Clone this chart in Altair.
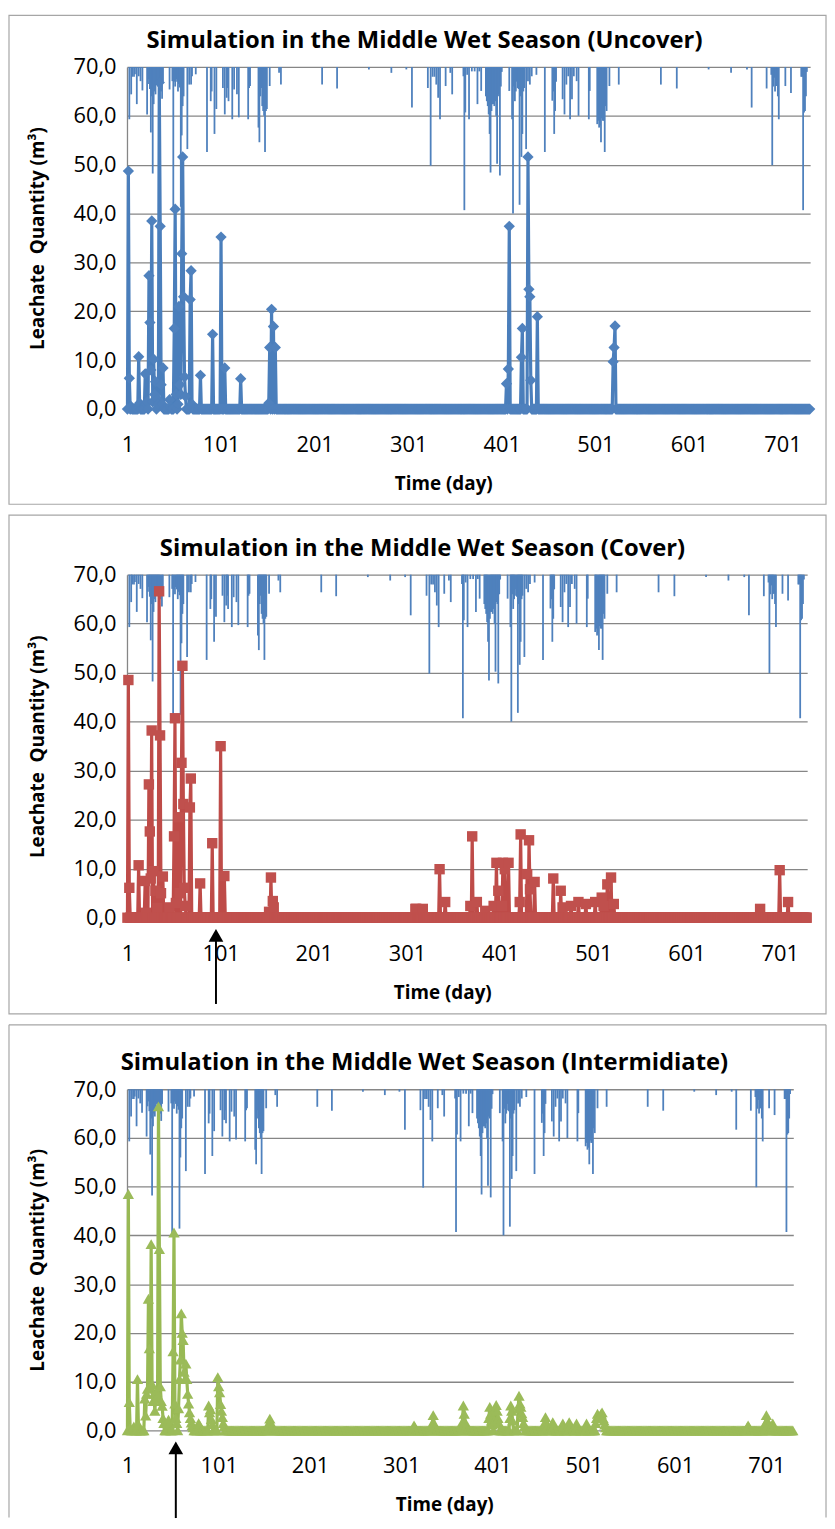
import altair as alt
import pandas as pd

N_DAYS = 730
X_TICKS = [1, 101, 201, 301, 401, 501, 601, 701]
Y_TICKS = [0, 10, 20, 30, 40, 50, 60, 70]

# Rainfall (drawn as inverted bars hanging from the top of the plot)
RAIN_DAYS = [3, 5, 6, 8, 9, 11, 13, 15, 17, 22, 23, 24, 25, 26, 27, 28, 29, 30, 31, 32, 33, 34, 35, 36, 37, 38, 39,
             46, 49, 50, 51, 52, 53, 54, 55, 56, 57, 58, 59, 60, 61, 65, 67, 69, 70, 74, 86, 90, 91, 94, 96,
             103, 105, 107, 108, 109, 113, 115, 118, 120, 130, 131, 132, 141, 142, 143, 144, 145, 146, 147, 148,
             149, 150, 153, 163, 165, 209, 225, 259, 283, 299, 305, 322, 325, 327, 329, 331, 333, 335, 341, 346,
             348, 360, 361, 362, 364, 366, 369, 372, 375, 377, 379, 384, 385, 386, 387, 388, 389, 390, 391, 392,
             393, 394, 395, 396, 397, 398, 399, 400, 401, 409, 412, 413, 414, 415, 416, 417, 418, 419, 420, 421,
             422, 423, 424, 425, 427, 429, 431, 433, 438, 447, 455, 456, 457, 458, 459, 466, 468, 470, 472, 474,
             476, 478, 481, 483, 494, 495, 503, 504, 505, 506, 507, 508, 509, 510, 511, 512, 513, 516, 526, 571,
             588, 622, 646, 663, 668, 684, 689, 690, 691, 692, 693, 694, 695, 696, 697, 704, 710, 721, 722, 723,
             724, 725, 726, 727]
RAIN_DEPTH = [10.7, 5.6, 2.0, 2.0, 1.5, 7.6, 1.9, 2.9, 4.8, 9.7, 3.5, 2.5, 4.5, 13.4, 6.0, 21.8, 7.6, 5.0, 5.6, 3.6,
              3.0, 4.0, 22.0, 4.0, 5.0, 6.5, 3.0,
              4.6, 2.9, 29.5, 3.0, 4.0, 2.5, 3.0, 5.0, 3.5, 4.2, 28.6, 14.0, 8.0, 6.0, 16.8, 3.6, 3.6, 1.9, 1.5,
              17.4, 7.0, 5.0, 13.7, 8.6,
              4.3, 9.7, 6.3, 4.3, 7.0, 10.7, 4.6, 5.6, 10.3, 10.7, 4.3, 3.9, 12.4, 15.4, 6.0, 4.3, 8.0, 9.0, 10.0,
              17.4, 9.0, 8.6, 3.9, 1.2, 3.6, 3.6, 4.4, 0.5, 1.2, 0.5, 8.3, 4.3, 20.2, 2.0, 2.0, 3.6, 6.3, 10.7,
              3.9, 1.2,
              5.6, 1.9, 29.3, 9.3, 1.6, 10.7, 0.9, 0.9, 7.6, 0.9, 4.9, 6.0, 7.0, 8.0, 9.7, 13.7, 21.6, 9.0, 7.6,
              7.6, 8.0, 7.0, 10.0, 19.8, 5.6, 6.0, 22.2, 4.0, 1.0, 4.9, 10.7, 30.0, 4.0, 7.0, 5.0, 3.0, 4.3, 4.5,
              28.2, 6.0,
              18.4, 13.7, 5.0, 4.3, 16.8, 2.9, 3.6, 1.9, 1.6, 17.4, 6.9, 5.0, 13.7, 9.0, 3.0, 6.6, 9.7, 3.6, 1.9,
              10.7,
              6.6, 1.9, 2.9, 10.0, 10.7, 4.9, 11.7, 11.0, 12.4, 12.0, 15.4, 10.5, 11.0, 11.0, 17.4, 8.0, 9.0, 3.9,
              3.6, 3.6,
              4.4, 0.5, 1.2, 0.5, 8.3, 4.4, 1.6, 20.1, 4.0, 2.2, 5.0, 3.9, 3.9, 6.0, 10.7, 3.9, 5.3, 2.0, 2.0,
              29.3,
              9.3, 9.0, 6.0, 1.0]

# Leachate quantity (m3): days with non-zero values, all other days are 0
UNCOVER_DAYS = [2, 3, 5, 13, 14, 20, 21, 22, 24, 25, 26, 27, 28, 29, 30, 31, 33, 34, 35, 36, 37, 38, 39, 46, 47,
                51, 52, 53, 55, 56, 57, 58, 59, 60, 61, 62, 63, 68, 69, 70, 79, 92, 101, 105, 122, 152, 153, 155,
                157, 159, 406, 408, 409, 422, 423, 429, 430, 431, 432, 439, 520, 521, 522]
UNCOVER_VALS = [48.7, 6.3, 0.5, 10.7, 1.2, 7.2, 1.0, 1.5, 27.3, 17.7, 8.0, 38.5, 1.5, 10.2, 3.0, 5.6, 2.0, 1.0,
                66.8, 37.4, 5.0, 1.0, 8.4, 1.9, 0.5,
                16.5, 40.9, 3.0, 1.0, 21.0, 5.0, 3.0, 31.8, 51.6, 23.0, 6.6, 2.6, 22.4, 28.3, 1.0, 6.9, 15.3, 35.2,
                8.4, 6.2, 1.2, 12.6, 20.4,
                16.9, 12.6, 5.2, 8.2, 37.4, 10.6, 16.5, 51.6, 24.5, 23.0, 5.9, 18.9, 9.7, 12.6, 17.0]

COVER_DAYS = [2, 3, 13, 20, 21, 24, 25, 26, 27, 29, 31, 33, 35, 36, 37, 39, 46, 51, 52, 53, 56, 57, 59, 60, 61,
              62, 63, 68, 69, 79, 92, 101, 105, 153, 155, 157, 158, 310, 311, 318, 336, 342, 369, 371, 376, 385,
              394, 397, 399, 403, 404, 406, 410, 422, 423, 430, 432, 433, 438, 458, 466, 468, 477, 485, 493, 503,
              510, 512, 516, 520, 523, 680, 701, 710]
COVER_VALS = [48.5, 6.1, 10.7, 7.5, 1.0, 27.2, 17.6, 8.0, 38.2, 9.5, 5.5, 2.0, 66.6, 37.2, 5.0, 8.4, 2.1, 16.6,
              40.7, 3.0, 20.5, 5.0, 31.6, 51.4, 23.2,
              6.1, 2.4, 22.5, 28.4, 7.0, 15.2, 35.0, 8.5, 1.2, 8.2, 3.4, 2.1, 1.8, 1.8, 1.8, 9.9, 3.2, 2.4, 16.6,
              3.2, 1.4,
              2.4, 11.2, 5.5, 2.4, 11.2, 9.9, 11.2, 3.2, 17.0, 8.9, 15.8, 5.8, 7.3, 8.0, 5.5, 2.1, 2.4, 3.2, 2.8,
              3.2,
              4.1, 2.4, 6.8, 8.2, 2.8, 1.8, 9.7, 3.2]

INTER_DAYS = [2, 3, 4, 8, 12, 13, 20, 21, 22, 23, 24, 25, 26, 27, 28, 29, 30, 31, 32, 33, 34, 35, 36, 37, 38, 39,
              40, 41, 45, 46, 47, 51, 52, 53, 54, 55, 57, 58, 59, 60, 61, 62, 63, 64, 65, 66, 67, 68, 69, 70, 71,
              72, 73, 79, 80, 90, 91, 92, 93, 94, 100, 101, 102, 103, 104, 105, 106, 107, 156, 157, 158, 159, 160,
              315, 316, 335, 336, 337, 338, 368, 369, 370, 371, 372, 397, 398, 399, 400, 401, 403, 404, 405, 406,
              407, 408, 420, 421, 422, 423, 429, 430, 431, 432, 433, 434, 435, 436, 458, 459, 460, 461, 467, 468,
              478, 479, 485, 486, 493, 494, 504, 505, 514, 515, 516, 517, 518, 519, 520, 521, 522, 523, 524, 525,
              680, 681, 682, 700, 701, 702, 703, 708, 709]
INTER_VALS = [48.5, 5.8, 0.5, 0.8, 10.5, 1.2, 6.5, 3.0, 7.5, 8.5, 27.0, 16.8, 9.0, 38.2, 9.5, 6.0, 7.5, 4.0, 6.5,
              8.0, 7.0, 66.5, 37.2, 9.0, 6.0, 5.0,
              2.5, 1.5, 1.4, 2.2, 1.2, 16.2, 40.6, 5.5, 2.5, 1.5, 4.5, 10.5, 14.5, 24.0, 20.0, 18.5, 12.0, 10.5,
              13.7, 10.5, 7.5, 5.5, 3.7, 2.5, 1.6,
              1.0, 0.6, 1.5, 1.0, 5.1, 3.7, 4.3, 2.3, 1.3, 10.9, 9.0, 7.8, 5.4, 4.0, 2.7, 1.5, 0.8, 1.5, 2.4, 1.6,
              0.9, 0.5,
              1.0, 0.6, 1.4, 3.1, 1.4, 0.7, 1.7, 5.1, 3.4, 1.7, 0.8, 2.5, 4.8, 3.4, 2.0, 1.2, 2.0, 4.5, 5.2, 4.0,
              2.5, 1.5, 2.5, 5.1, 4.0, 2.0, 4.5, 7.1, 5.5, 4.8, 3.5, 2.7, 1.5, 0.8, 1.5, 2.7, 1.6, 0.8, 1.7, 0.9,
              1.4, 0.7, 1.7, 0.8, 1.4, 0.7, 1.4, 0.7, 1.5, 2.5, 3.4, 2.6, 2.5, 3.0, 3.4, 3.7, 2.5, 2.0, 1.2, 0.6,
              0.6, 1.0, 0.6, 1.5, 3.1, 2.0, 1.0, 1.4, 0.7]

TITLES = ["Simulation in the Middle Wet Season (Uncover)",
          "Simulation in the Middle Wet Season (Cover)",
          "Simulation in the Middle Wet Season (Intermidiate)"]
ARROW_DAY_COVER = 96
ARROW_DAY_INTER = 54

FONT = "Open Sans"
GRID = "#868686"
FRAME = "#A6A6A6"


def series_frame(days, vals):
    lookup = dict(zip(days, vals))
    d = list(range(1, N_DAYS + 1))
    return pd.DataFrame({"day": d, "q": [lookup.get(k, 0.0) for k in d]})


rain_df = pd.DataFrame({"day": RAIN_DAYS, "rain": RAIN_DEPTH})


def make_panel(title, days, vals, line_color, marker_color, shape, msize, W, H,
               frame_top, frame_bottom, title_x, xtitle_x, arrow_day=None, open_bottom=False,
               arrow_tail=-17.6):
    x_axis = alt.Axis(values=X_TICKS, format="d", grid=False, domain=False, ticks=False,
                      labelFont=FONT, labelFontSize=22, labelColor="black", labelPadding=26,
                      labelOverlap=False, labelFlush=False,
                      title="Time (day)", titleFont=FONT, titleFontSize=19, titleFontWeight="bold",
                      titleColor="black", titleX=xtitle_x, titleY=75, titleAlign="center",
                      titleBaseline="middle")
    y_axis = alt.Axis(values=Y_TICKS, labelExpr="replace(format(datum.value, '.1f'), '.', ',')",
                      grid=True, gridColor=GRID, gridWidth=1.3, domain=True, domainColor=GRID,
                      domainWidth=1.3, ticks=False, labelFont=FONT, labelFontSize=22,
                      labelColor="black", labelPadding=11,
                      title="Leachate\u00a0 Quantity (m\u00b3)", titleFont=FONT, titleFontSize=19,
                      titleFontWeight="bold", titleColor="black", titleX=-90, titleY=H / 2,
                      titleAngle=-90, titleAlign="center", titleBaseline="middle")
    xs = alt.Scale(domain=[0.5, N_DAYS + 0.5], nice=False, zero=False)
    ys = alt.Scale(domain=[0, 70], nice=False)
    right = 705

    layers = []
    if not open_bottom:
        frame = alt.Chart(alt.Data(values=[{}])).mark_rect(
            fillOpacity=0, stroke=FRAME, strokeWidth=1.2).encode(
            x=alt.value(-119), x2=alt.value(right),
            y=alt.value(frame_top), y2=alt.value(H + frame_bottom))
        layers.append(frame)
    else:
        for enc in [dict(x=alt.value(-119), x2=alt.value(right), y=alt.value(frame_top)),
                    dict(x=alt.value(-119), y=alt.value(frame_top), y2=alt.value(H + frame_bottom)),
                    dict(x=alt.value(right), y=alt.value(frame_top), y2=alt.value(H + frame_bottom))]:
            layers.append(alt.Chart(alt.Data(values=[{}])).mark_rule(
                color=FRAME, strokeWidth=1.2).encode(**enc))

    ttl = alt.Chart(alt.Data(values=[{"t": title}])).mark_text(
        font=FONT, fontSize=24, fontWeight="bold", color="black", align="center",
        baseline="middle").encode(x=alt.value(title_x), y=alt.value(-26), text="t:N")
    layers.append(ttl)

    rain = alt.Chart(rain_df).transform_calculate(
        top="70", bottom="70 - datum.rain").mark_rule(
        color="#4F81BD", strokeWidth=1.8).encode(
        x=alt.X("day:Q", scale=xs, axis=x_axis),
        y=alt.Y("top:Q", scale=ys, axis=y_axis),
        y2="bottom:Q")
    layers.append(rain)

    sdf = series_frame(days, vals)
    line = alt.Chart(sdf).mark_line(color=line_color, strokeWidth=3.2, strokeJoin="round").encode(
        x=alt.X("day:Q", scale=xs, axis=x_axis),
        y=alt.Y("q:Q", scale=ys, axis=y_axis))
    pts = alt.Chart(sdf).mark_point(shape=shape, filled=True, size=msize, color=marker_color,
                                    opacity=1).encode(
        x=alt.X("day:Q", scale=xs, axis=x_axis),
        y=alt.Y("q:Q", scale=ys, axis=y_axis))
    layers += [line, pts]

    if arrow_day is not None:
        adf = pd.DataFrame({"day": [arrow_day], "tip": [-3.6], "tail": [arrow_tail]})
        shaft = alt.Chart(adf).mark_rule(color="black", strokeWidth=2).encode(
            x=alt.X("day:Q", scale=xs, axis=x_axis),
            y=alt.Y("tip:Q", scale=ys, axis=y_axis), y2="tail:Q")
        head = alt.Chart(adf).mark_point(shape="triangle-up", filled=True, size=220,
                                         color="black", opacity=1).encode(
            x=alt.X("day:Q", scale=xs, axis=x_axis),
            y=alt.Y("tip:Q", scale=ys, axis=y_axis))
        layers += [shaft, head]

    return alt.layer(*layers).properties(width=W, height=H)


# title_x: pixel centre of the title relative to the plot's left edge
p1 = make_panel(TITLES[0], UNCOVER_DAYS, UNCOVER_VALS,
                "#4A7EBB", "#4F81BD", "diamond", 130, 689, 345, -52, 96, 300, 319)
p2 = make_panel(TITLES[1], COVER_DAYS, COVER_VALS,
                "#BE4B48", "#C0504D", "square", 110, 686, 346, -60, 97, 298, 318,
                arrow_day=ARROW_DAY_COVER)
p3 = make_panel(TITLES[2], INTER_DAYS, INTER_VALS,
                "#98B954", "#9BBB59", "triangle-up", 130, 672, 344, -65, 88, 300, 320,
                arrow_day=ARROW_DAY_INTER, open_bottom=True, arrow_tail=-18.0)

chart = alt.vconcat(p1, p2, p3, spacing=9).properties(padding=0).configure_view(stroke=None)
chart.save("out.html", embed_options={"renderer": "svg", "actions": False})
